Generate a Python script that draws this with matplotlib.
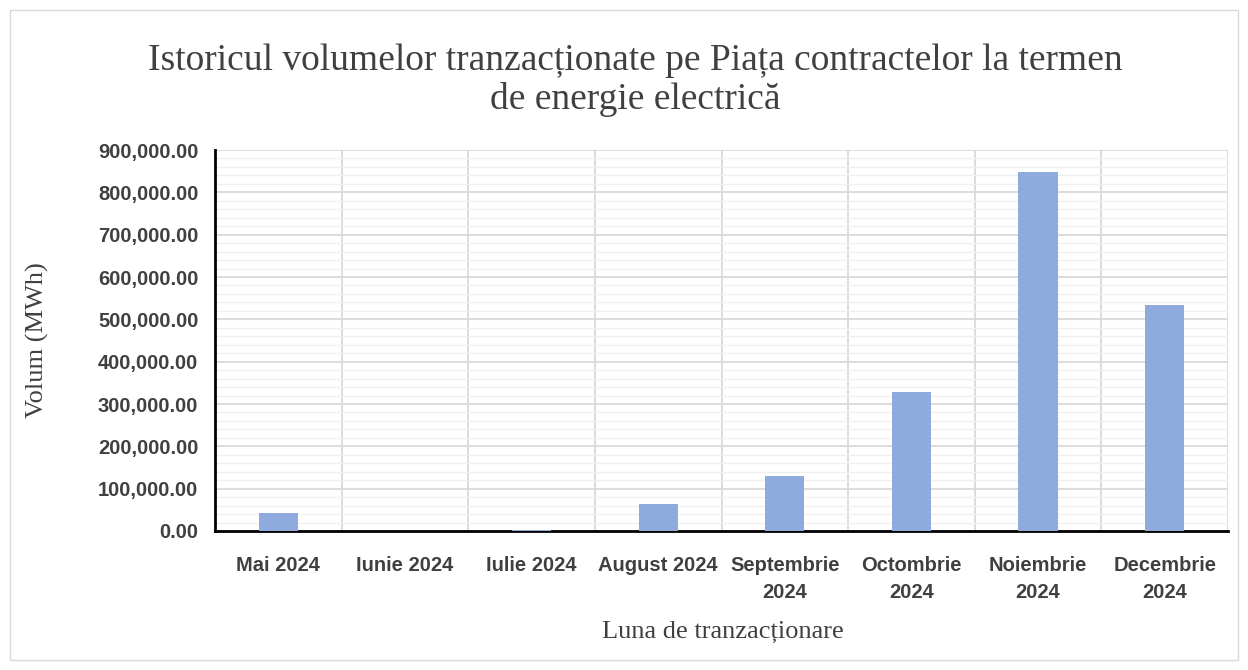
import matplotlib
matplotlib.use("Agg")
import matplotlib.pyplot as plt
from matplotlib.ticker import MultipleLocator, FuncFormatter
from matplotlib.patches import Rectangle

categories = ["Mai 2024", "Iunie 2024", "Iulie 2024", "August 2024",
              "Septembrie\n2024", "Octombrie\n2024", "Noiembrie\n2024", "Decembrie\n2024"]
volumes = [43000, 0, 2000, 64000, 130000, 328000, 849000, 535000]

title = "Istoricul volumelor tranzacționate pe Piața contractelor la termen\nde energie electrică"
xlabel = "Luna de tranzacționare"
ylabel = "Volum (MWh)"

fig = plt.figure(figsize=(12.48, 6.70), dpi=100)
ax = fig.add_axes([215/1248, 1-531/670, (1228-215)/1248, (531-150)/670])

x = list(range(len(categories)))
ax.bar(x, volumes, width=0.31, color="#8FAADC", zorder=3)

ax.set_xlim(-0.5, len(categories) - 0.5)
ax.set_ylim(0, 900000)
ax.yaxis.set_major_locator(MultipleLocator(100000))
ax.yaxis.set_minor_locator(MultipleLocator(20000))
ax.yaxis.set_major_formatter(FuncFormatter(lambda v, p: f"{v:,.2f}"))
ax.grid(which="major", axis="y", color="#D9D9D9", linewidth=1.3, zorder=1)
ax.grid(which="minor", axis="y", color="#F0F0F0", linewidth=1.0, zorder=0)
for b in range(len(categories) + 1):
    ax.axvline(b - 0.5, color="#D9D9D9", linewidth=1.3, zorder=1)

ax.set_xticks(x)
ax.set_xticklabels(categories, fontfamily="Liberation Sans", fontweight="bold",
                   fontsize=14.5, color="#404040", linespacing=1.55)
for lab in ax.get_yticklabels():
    lab.set_fontfamily("Liberation Sans")
    lab.set_fontweight("bold")
    lab.set_fontsize(14.5)
    lab.set_color("#404040")
ax.tick_params(axis="x", which="both", length=0, pad=18)
ax.tick_params(axis="y", which="both", length=0, pad=12)

for s in ["top", "right"]:
    ax.spines[s].set_visible(False)
ax.spines["left"].set_color("black")
ax.spines["left"].set_linewidth(2)
ax.spines["bottom"].set_color("black")
ax.spines["bottom"].set_linewidth(2)

fig.text(635/1248, 1-80/670, title, ha="center", va="center",
         fontfamily="Liberation Serif", fontsize=27, color="#404040", linespacing=1.15)
fig.text(723/1248, 1-632/670, xlabel, ha="center", va="center",
         fontfamily="Liberation Serif", fontsize=19, color="#404040")
fig.text(37/1248, 1-340/670, ylabel, ha="center", va="center", rotation=90,
         fontfamily="Liberation Serif", fontsize=19, color="#404040")

fig.patches.append(Rectangle((10/1248, 10/670), 1228/1248, 650/670, transform=fig.transFigure,
                             fill=False, edgecolor="#D9D9D9", linewidth=1))

fig.savefig("out.png", dpi=100, facecolor="white")
